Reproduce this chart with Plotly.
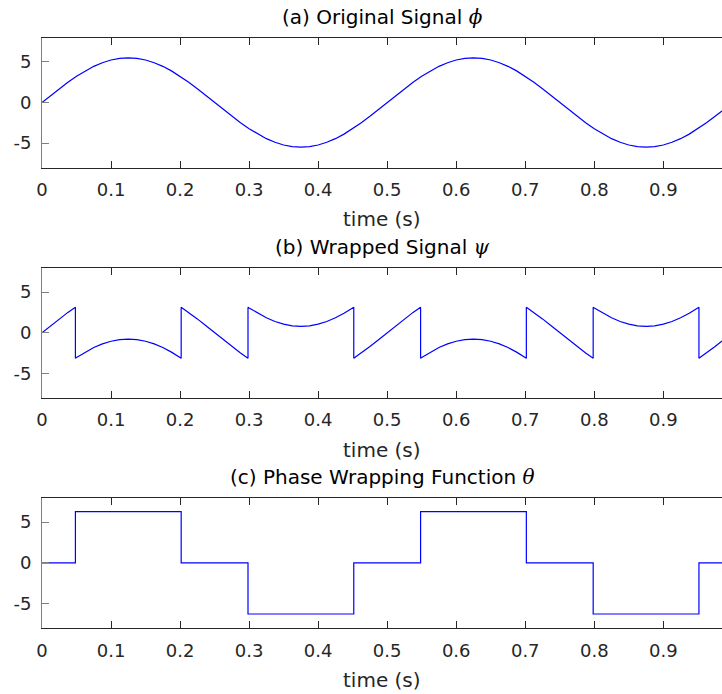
import plotly.graph_objects as go

# ---------------- data ----------------
time_phi = [0, 0.0125, 0.025, 0.0375, 0.05, 0.0625, 0.075, 0.0875, 0.1, 0.1125,
            0.125, 0.1375, 0.15, 0.1625, 0.175, 0.1875, 0.2, 0.2125, 0.225, 0.2375,
            0.25, 0.2625, 0.275, 0.2875, 0.3, 0.3125, 0.325, 0.3375, 0.35, 0.3625,
            0.375, 0.3875, 0.4, 0.4125, 0.425, 0.4375, 0.45, 0.4625, 0.475, 0.4875,
            0.5, 0.5125, 0.525, 0.5375, 0.55, 0.5625, 0.575, 0.5875, 0.6, 0.6125,
            0.625, 0.6375, 0.65, 0.6625, 0.675, 0.6875, 0.7, 0.7125, 0.725, 0.7375,
            0.75, 0.7625, 0.775, 0.7875, 0.8, 0.8125, 0.825, 0.8375, 0.85, 0.8625,
            0.875, 0.8875, 0.9, 0.9125, 0.925, 0.9375, 0.95, 0.9625, 0.975, 0.985]
phi = [0, 0.86, 1.70, 2.50, 3.23, 3.89, 4.45, 4.90, 5.23, 5.43,
       5.50, 5.43, 5.23, 4.90, 4.45, 3.89, 3.23, 2.50, 1.70, 0.86,
       0, -0.86, -1.70, -2.50, -3.23, -3.89, -4.45, -4.90, -5.23, -5.43,
       -5.50, -5.43, -5.23, -4.90, -4.45, -3.89, -3.23, -2.50, -1.70, -0.86,
       0, 0.86, 1.70, 2.50, 3.23, 3.89, 4.45, 4.90, 5.23, 5.43,
       5.50, 5.43, 5.23, 4.90, 4.45, 3.89, 3.23, 2.50, 1.70, 0.86,
       0, -0.86, -1.70, -2.50, -3.23, -3.89, -4.45, -4.90, -5.23, -5.43,
       -5.50, -5.43, -5.23, -4.90, -4.45, -3.89, -3.23, -2.50, -1.70, -1.03]

time_psi = [0, 0.0125, 0.025, 0.0375, 0.0484, 0.0484,
            0.05, 0.0625, 0.075, 0.0875, 0.1, 0.1125, 0.125, 0.1375, 0.15, 0.1625, 0.175, 0.1875, 0.2, 0.2016, 0.2016,
            0.2125, 0.225, 0.2375, 0.25, 0.2625, 0.275, 0.2875, 0.2984, 0.2984,
            0.3, 0.3125, 0.325, 0.3375, 0.35, 0.3625, 0.375, 0.3875, 0.4, 0.4125, 0.425, 0.4375, 0.45, 0.4516, 0.4516,
            0.4625, 0.475, 0.4875, 0.5, 0.5125, 0.525, 0.5375, 0.5484, 0.5484,
            0.55, 0.5625, 0.575, 0.5875, 0.6, 0.6125, 0.625, 0.6375, 0.65, 0.6625, 0.675, 0.6875, 0.7, 0.7016, 0.7016,
            0.7125, 0.725, 0.7375, 0.75, 0.7625, 0.775, 0.7875, 0.7984, 0.7984,
            0.8, 0.8125, 0.825, 0.8375, 0.85, 0.8625, 0.875, 0.8875, 0.9, 0.9125, 0.925, 0.9375, 0.95, 0.9516, 0.9516,
            0.9625, 0.975, 0.985]
psi = [0, 0.86, 1.70, 2.50, 3.14, -3.14,
       -3.05, -2.39, -1.83, -1.38, -1.05, -0.85, -0.78, -0.85, -1.05, -1.38, -1.83, -2.39, -3.05, -3.14, 3.14,
       2.50, 1.70, 0.86, 0, -0.86, -1.70, -2.50, -3.14, 3.14,
       3.05, 2.39, 1.83, 1.38, 1.05, 0.85, 0.78, 0.85, 1.05, 1.38, 1.83, 2.39, 3.05, 3.14, -3.14,
       -2.50, -1.70, -0.86, 0, 0.86, 1.70, 2.50, 3.14, -3.14,
       -3.05, -2.39, -1.83, -1.38, -1.05, -0.85, -0.78, -0.85, -1.05, -1.38, -1.83, -2.39, -3.05, -3.14, 3.14,
       2.50, 1.70, 0.86, 0, -0.86, -1.70, -2.50, -3.14, 3.14,
       3.05, 2.39, 1.83, 1.38, 1.05, 0.85, 0.78, 0.85, 1.05, 1.38, 1.83, 2.39, 3.05, 3.14, -3.14,
       -2.50, -1.70, -1.03]

time_theta = [0, 0.0484, 0.2016, 0.2984, 0.4516, 0.5484, 0.7016, 0.7984, 0.9516, 0.985]
theta = [0, 6.28, 0, -6.28, 0, 6.28, 0, -6.28, 0, 0]

x_tickvals = [0, 0.1, 0.2, 0.3, 0.4, 0.5, 0.6, 0.7, 0.8, 0.9]
x_ticktext = ["0", "0.1", "0.2", "0.3", "0.4", "0.5", "0.6", "0.7", "0.8", "0.9"]
y_tickvals = [-5, 0, 5]
y_ticktext = ["-5", "0", "5"]

titles = [
    "(a) Original Signal <span style='font-family:DejaVu Serif;font-style:italic'>ϕ</span>",
    "(b) Wrapped Signal <span style='font-family:DejaVu Serif;font-style:italic'>ψ</span>",
    "(c) Phase Wrapping Function <span style='font-family:DejaVu Serif;font-style:italic'>θ</span>",
]
xlabel = "time (s)"

# ---------------- figure ----------------
W, H = 722, 694
FONT = "DejaVu Sans"
XAX = "#262626"
YAX = "#808080"

# plot-area pixel boxes (top, bottom)
boxes = [(37.5, 167.5), (267.7, 397.7), (497.7, 628.0)]
domains = [[1 - b / H, 1 - t / H] for t, b in boxes]

fig = go.Figure()
series = [(time_phi, phi, "linear"), (time_psi, psi, "linear"), (time_theta, theta, "hv")]
for i, (tx, ty, shape) in enumerate(series):
    sfx = "" if i == 0 else str(i + 1)
    fig.add_trace(go.Scatter(x=tx, y=ty, mode="lines",
                             line=dict(color="#0000FF", width=1.2, shape=shape),
                             xaxis="x" + sfx, yaxis="y" + sfx, showlegend=False))

layout = dict(
    width=W, height=H,
    margin=dict(l=42, r=0, t=0, b=0),
    paper_bgcolor="white", plot_bgcolor="white",
    font=dict(family=FONT, size=18, color="#262626"),
    showlegend=False,
)
annotations = []
for i in range(3):
    sfx = "" if i == 0 else str(i + 1)
    layout["xaxis" + sfx] = dict(
        domain=[0, 1], anchor="y" + sfx, range=[0, 0.985],
        tickvals=x_tickvals, ticktext=x_ticktext,
        ticks="inside", ticklen=7, tickwidth=1, tickcolor=XAX,
        showline=True, linecolor=XAX, linewidth=1, mirror="ticks",
        showgrid=False, zeroline=False, ticklabelstandoff=6,
        tickfont=dict(family=FONT, size=18, color="#262626"),
    )
    layout["yaxis" + sfx] = dict(
        domain=domains[i], anchor="x" + sfx, range=[-8, 8],
        tickvals=y_tickvals, ticktext=y_ticktext,
        ticks="inside", ticklen=7, tickwidth=1, tickcolor=YAX,
        showline=True, linecolor=YAX, linewidth=1, mirror=False,
        showgrid=False, zeroline=False, ticklabelstandoff=6,
        tickfont=dict(family=FONT, size=18, color="#262626"),
    )
    annotations.append(dict(text=titles[i], xref="paper", yref="paper",
                            x=0.5, y=domains[i][1], xanchor="center", yanchor="middle",
                            yshift=21, showarrow=False,
                            font=dict(family=FONT, size=20, color="black")))
    annotations.append(dict(text=xlabel, xref="paper", yref="paper",
                            x=0.5, y=domains[i][0], xanchor="center", yanchor="middle",
                            yshift=-52, showarrow=False,
                            font=dict(family=FONT, size=20, color="#262626")))
layout["annotations"] = annotations
fig.update_layout(**layout)

fig.write_html("out.html", config={"displayModeBar": False},
               post_script="document.body.style.margin='0px';")
